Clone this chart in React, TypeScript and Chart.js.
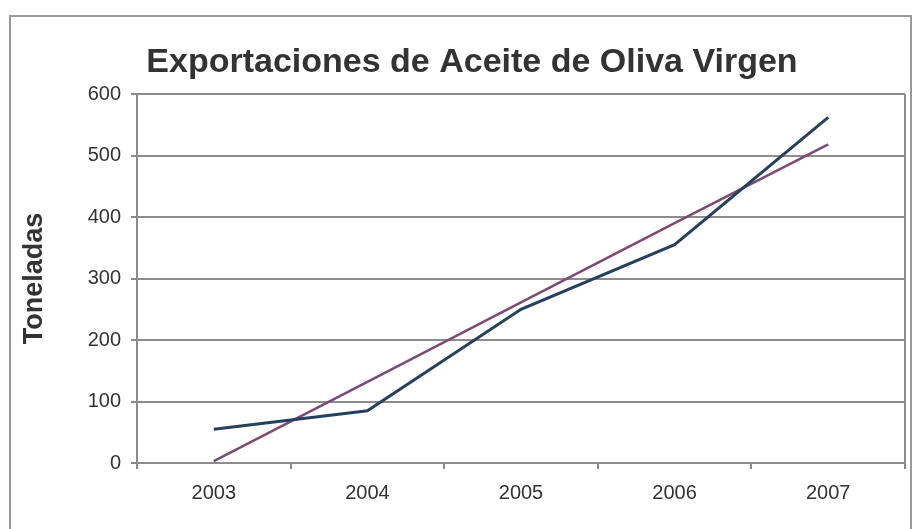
import React, { useEffect, useRef } from "react";
import { Chart, registerables } from "chart.js";

Chart.register(...registerables);

const chartTitle = "Exportaciones de Aceite de Oliva Virgen";
const yTitle = "Toneladas";
const years = ["2003", "2004", "2005", "2006", "2007"];
const exportaciones = [55, 85, 250, 355, 562];
const tendencia = [3, 132, 261, 390, 518];
const yMin = 0;
const yMax = 600;
const yStep = 100;

const FONT = "Liberation Sans, Arial, sans-serif";

const frame = {
  id: "frame",
  beforeDraw(chart: any) {
    const { ctx } = chart;
    ctx.save();
    ctx.fillStyle = "#ffffff";
    ctx.fillRect(0, 0, chart.width, chart.height);
    ctx.strokeStyle = "#9a9a9a";
    ctx.lineWidth = 2;
    ctx.strokeRect(10, 16, 901, 530);
    ctx.fillStyle = "#333333";
    ctx.font = "bold 34px " + FONT;
    ctx.textAlign = "center";
    ctx.textBaseline = "alphabetic";
    ctx.fillText(chartTitle, 472, 72);
    ctx.restore();
  },
  afterDraw(chart: any) {
    const { ctx, chartArea } = chart;
    ctx.save();
    ctx.strokeStyle = "#8c8c8c";
    ctx.lineWidth = 2;
    ctx.beginPath();
    ctx.moveTo(chartArea.right, chartArea.top);
    ctx.lineTo(chartArea.right, chartArea.bottom);
    ctx.stroke();
    ctx.restore();
  },
};

export default function App() {
  const ref = useRef<HTMLCanvasElement>(null);
  useEffect(() => {
    if (!ref.current) return;
    const chart = new Chart(ref.current, {
      type: "line",
      data: {
        labels: years,
        datasets: [
          {
            label: "Exportaciones",
            data: exportaciones,
            borderColor: "#26415e",
            borderWidth: 3,
            pointRadius: 0,
            tension: 0,
          },
          {
            label: "Tendencia",
            data: tendencia,
            borderColor: "#7c4a72",
            borderWidth: 2.5,
            pointRadius: 0,
            tension: 0,
          },
        ],
      },
      options: {
        responsive: false,
        animation: false,
        devicePixelRatio: 1,
        layout: { padding: { left: 14, right: 9, top: 94, bottom: 0 } },
        plugins: {
          legend: { display: false },
          tooltip: { enabled: false },
          title: { display: false },
        },
        scales: {
          x: {
            offset: true,
            grid: {
              display: true,
              offset: true,
              drawOnChartArea: false,
              drawTicks: true,
              tickLength: 6,
              color: "#8c8c8c",
              lineWidth: 2,
            },
            border: { display: true, color: "#8c8c8c", width: 2 },
            ticks: {
              color: "#333333",
              padding: 12,
              font: { family: FONT, size: 20 },
            },
            afterFit(scale: any) {
              scale.height = 66;
            },
          },
          y: {
            min: yMin,
            max: yMax,
            ticks: {
              stepSize: yStep,
              color: "#333333",
              padding: 10,
              font: { family: FONT, size: 20 },
            },
            grid: {
              color: "#8c8c8c",
              lineWidth: 2,
              tickLength: 6,
            },
            border: { display: true, color: "#8c8c8c", width: 2 },
            title: {
              display: true,
              text: yTitle,
              color: "#333333",
              padding: 4,
              font: { family: FONT, size: 27, weight: "bold" },
            },
            afterFit(scale: any) {
              scale.width = 123;
            },
          },
        },
      },
      plugins: [frame],
    });
    return () => chart.destroy();
  }, []);
  return (
    <div style={{ position: "fixed", left: 0, top: 0, width: 914, height: 529, background: "#fff" }}>
      <canvas ref={ref} width={914} height={529} style={{ display: "block" }} />
    </div>
  );
}
